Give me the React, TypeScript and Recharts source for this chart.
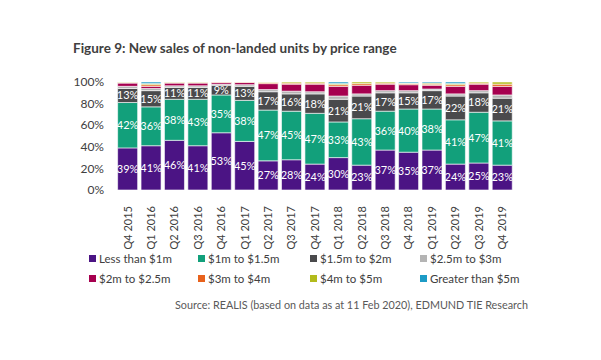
import React from "react";
import { BarChart, Bar, XAxis, YAxis, LabelList } from "recharts";

const categories = ["Q4 2015","Q1 2016","Q2 2016","Q3 2016","Q4 2016","Q1 2017","Q2 2017","Q3 2017","Q4 2017","Q1 2018","Q2 2018","Q3 2018","Q4 2018","Q1 2019","Q2 2019","Q3 2019","Q4 2019"];
const lessThan1m = [39,41,46,41,53,45,27,28,24,30,23,37,35,37,24,25,23];
const from1to1_5m = [42,36,38,43,35,38,47,45,47,33,43,36,40,38,41,47,41];
const from1_5to2m = [13,15,11,11,9,13,17,16,18,21,21,17,15,17,22,18,21];
const from2_5to3m = [2,2,1.5,1.5,1,1.5,2,2.5,2,3,2,2,2,1.5,2,2,3];
const from2to2_5m = [3,2,2.5,2.5,1.5,2,5.5,6.5,7,9,8,6,5.5,3.5,7,6,8];
const from3to4m = [0.5,1.5,0.5,0.5,0.5,0.5,1,1,1,1.5,1.5,1,1,1,1.5,1,2];
const from4to5m = [0.5,1,0.5,0.5,0,0,0.5,1,1,1,1.5,1,0.5,1,1,1,2];
const over5m = [0,1.5,0,0,0,0,0,0,0,1.5,0,0,1,1,1.5,0,0];
const yTicks = [0,20,40,60,80,100];

const seriesDefs = [
  { key: "a", name: "Less than $1m", values: lessThan1m, color: "#4B1484", label: true },
  { key: "b", name: "$1m to $1.5m", values: from1to1_5m, color: "#12A07B", label: true },
  { key: "c", name: "$1.5m to $2m", values: from1_5to2m, color: "#4A4A4C", label: true },
  { key: "d", name: "$2.5m to $3m", values: from2_5to3m, color: "#B4B4B4", label: false },
  { key: "e", name: "$2m to $2.5m", values: from2to2_5m, color: "#A6004F", label: false },
  { key: "f", name: "$3m to $4m", values: from3to4m, color: "#E8621C", label: false },
  { key: "g", name: "$4m to $5m", values: from4to5m, color: "#B2BB1C", label: false },
  { key: "h", name: "Greater than $5m", values: over5m, color: "#1D9BC6", label: false },
];

const data = categories.map((c, i) => {
  const row: any = { cat: c };
  seriesDefs.forEach((s) => { row[s.key] = s.values[i]; });
  return row;
});

const FONT = "Lato, 'Open Sans', sans-serif";

const XTick = (props: any) => {
  const { x, y, payload } = props;
  return (
    <text x={x} y={y + 8} dy="0.35em" transform={`rotate(-90 ${x} ${y + 8})`} textAnchor="end" fontSize={11} fill="#404040" fontFamily={FONT}>
      {payload.value}
    </text>
  );
};

export default function App() {
  return (
    <div style={{ position: "absolute", left: 0, top: 0, width: 601, height: 360, background: "#fff", fontFamily: FONT }}>
      <div style={{ position: "absolute", left: 73, top: 40, fontSize: 13.5, fontWeight: 700, color: "#404040", whiteSpace: "nowrap" }}>
        Figure 9: New sales of non-landed units by price range
      </div>
      <BarChart width={601} height={360} data={data} margin={{ top: 82, right: 87, bottom: 120, left: 76 }} barCategoryGap="7%">
        <XAxis dataKey="cat" interval={0} tickLine={false} axisLine={false} height={50} tick={<XTick />} />
        <YAxis domain={[0, 100]} ticks={yTicks} width={40} tickLine={false} axisLine={false} tickMargin={6}
          tickFormatter={(v: number) => `${v}%`} tick={{ fontSize: 12, fill: "#404040", fontFamily: FONT }} allowDataOverflow />
        {seriesDefs.map((s) => (
          <Bar key={s.key} dataKey={s.key} name={s.name} stackId="s" fill={s.color} stroke="#ffffff" strokeWidth={0.6} isAnimationActive={false}>
            {s.label ? (
              <LabelList dataKey={s.key} position="center" fill="#ffffff" fontSize={11} fontWeight={400} fontFamily={FONT} formatter={(v: any) => `${v}%`} />
            ) : null}
          </Bar>
        ))}
      </BarChart>
      {seriesDefs.map((s, i) => {
        const col = i % 4;
        const row = Math.floor(i / 4);
        const xs = [89, 198, 310, 420];
        return (
          <div key={s.key} style={{ position: "absolute", left: xs[col], top: 252 + row * 20, display: "flex", alignItems: "center", fontSize: 11.5, color: "#404040", whiteSpace: "nowrap" }}>
            <span style={{ display: "inline-block", width: 7, height: 7, background: s.color, marginRight: 3 }} />
            {s.name}
          </div>
        );
      })}
      <div style={{ position: "absolute", left: 175, top: 298, fontSize: 10.8, color: "#595959", whiteSpace: "nowrap" }}>
        Source: REALIS (based on data as at 11 Feb 2020), EDMUND TIE Research
      </div>
    </div>
  );
}
